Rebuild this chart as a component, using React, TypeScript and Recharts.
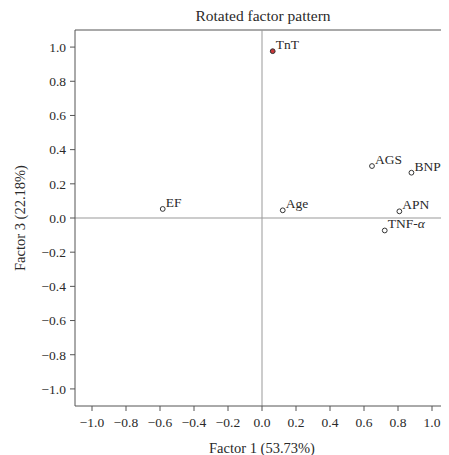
import React from "react";
import {
  ScatterChart,
  Scatter,
  XAxis,
  YAxis,
  ReferenceLine,
} from "recharts";

const variableNames = ["TnT", "EF", "Age", "AGS", "BNP", "APN", "TNF-α"];
const factor1Values = [0.063, -0.584, 0.122, 0.647, 0.879, 0.808, 0.722];
const factor3Values = [0.976, 0.053, 0.045, 0.304, 0.265, 0.039, -0.073];
const highlighted = ["TnT"];
const axisTicks = [-1.0, -0.8, -0.6, -0.4, -0.2, 0.0, 0.2, 0.4, 0.6, 0.8, 1.0];

const data = variableNames.map((name, i) => ({
  name,
  x: factor1Values[i],
  y: factor3Values[i],
  hl: highlighted.includes(name),
}));

const FONT = "'Liberation Serif', 'DejaVu Serif', serif";
const TEXT = "#2a2a2a";
const AXIS = "#555";

const fmt = (v: number) => {
  const s = Math.abs(v).toFixed(1);
  return v < -1e-9 ? "\u2212" + s : s;
};

const PointShape = (props: any) => {
  const { cx, cy, payload } = props;
  if (cx == null || cy == null) return null;
  const label = payload.name as string;
  const parts = label.split("α");
  return (
    <g>
      <circle
        cx={cx}
        cy={cy}
        r={2.4}
        fill={payload.hl ? "#c8383a" : "#fff"}
        stroke="#333"
        strokeWidth={1}
      />
      <text
        x={cx + 3}
        y={cy - 2}
        fontFamily={FONT}
        fontSize={13.5}
        fill={TEXT}
      >
        {parts.length > 1 ? (
          <>
            {parts[0]}
            <tspan fontStyle="italic">α</tspan>
            {parts[1]}
          </>
        ) : (
          label
        )}
      </text>
    </g>
  );
};

export default function App() {
  return (
    <div style={{ width: 441, height: 447 }}>
      <ScatterChart
        width={441}
        height={447}
        margin={{ top: 22, right: 0, bottom: 0, left: 0 }}
      >
        <text
          x={255}
          y={7}
          textAnchor="middle"
          dominantBaseline="central"
          fontFamily={FONT}
          fontSize={15.5}
          fill={TEXT}
        >
          Rotated factor pattern
        </text>
        <XAxis
          type="number"
          dataKey="x"
          domain={[-1.1, 1.1]}
          ticks={axisTicks}
          tickFormatter={fmt}
          allowDataOverflow
          height={49}
          tickSize={5}
          tickMargin={6}
          stroke={AXIS}
          tick={{ fill: TEXT, fontFamily: FONT, fontSize: 13.5 }}
          label={{
            value: "Factor 1 (53.73%)",
            position: "insideBottom",
            offset: 2,
            fill: TEXT,
            fontFamily: FONT,
            fontSize: 14.5,
          }}
        />
        <YAxis
          type="number"
          dataKey="y"
          domain={[-1.1, 1.1]}
          ticks={axisTicks}
          tickFormatter={fmt}
          allowDataOverflow
          width={67}
          tickSize={5}
          tickMargin={4}
          stroke={AXIS}
          tick={{ fill: TEXT, fontFamily: FONT, fontSize: 13.5 }}
          label={{
            value: "Factor 3 (22.18%)",
            angle: -90,
            position: "insideLeft",
            offset: 12,
            style: { textAnchor: "middle" },
            fill: TEXT,
            fontFamily: FONT,
            fontSize: 14.5,
          }}
        />
        <ReferenceLine y={1.1} stroke={AXIS} strokeWidth={1} ifOverflow="visible" />
        <ReferenceLine x={0} stroke="#999" strokeWidth={1} />
        <ReferenceLine y={0} stroke="#999" strokeWidth={1} />
        <Scatter data={data} shape={PointShape} isAnimationActive={false} />
      </ScatterChart>
    </div>
  );
}
